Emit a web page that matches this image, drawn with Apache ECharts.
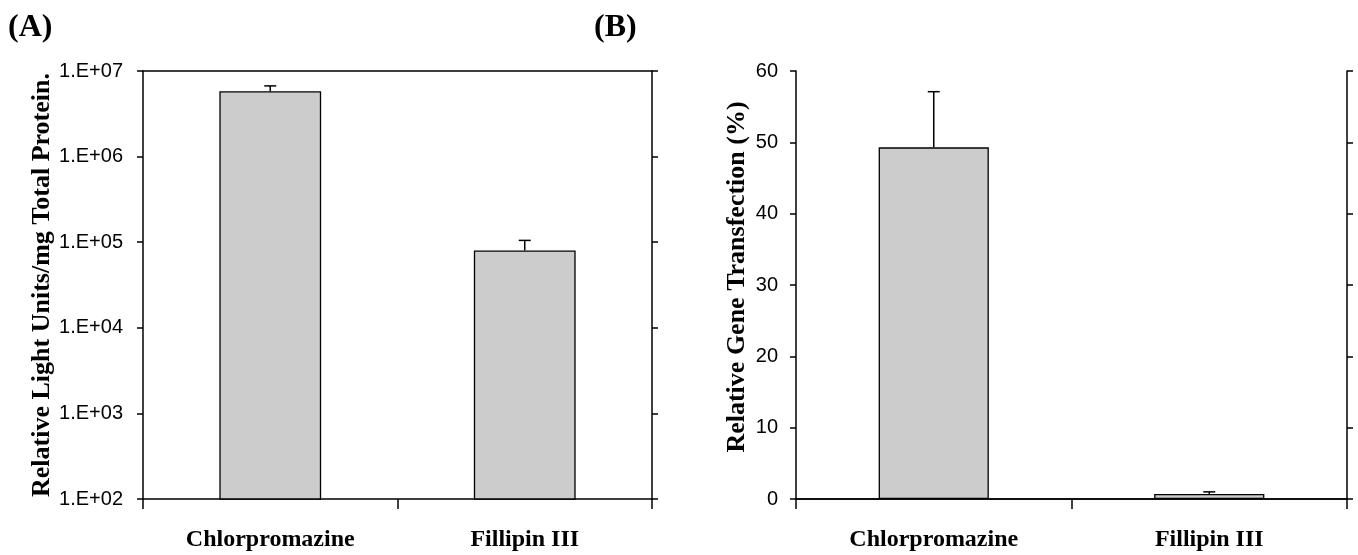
<!DOCTYPE html>
<html>
<head>
<meta charset="utf-8">
<script src="https://cdn.jsdelivr.net/npm/echarts@6/dist/echarts.min.js"></script>
<style>
html,body{margin:0;padding:0;background:#fff;}
#chart{width:1358px;height:555px;}
</style>
</head>
<body>
<div id="chart"></div>
<script>
const categories = ['Chlorpromazine', 'Fillipin III'];
const rluValues = [5.8e6, 8.0e4];
const rluErrTop = [6.7e6, 1.05e5];
const transfValues = [49.3, 0.7];
const transfErrTop = [57.1, 1.0];
const logTickLabels = ['1.E+02', '1.E+03', '1.E+04', '1.E+05', '1.E+06', '1.E+07'];
const titleA = 'Relative Light Units/mg Total Protein.';
const titleB = 'Relative Gene Transfection (%)';

const chart = echarts.init(document.getElementById('chart'), null, {renderer: 'canvas'});

const tickFont = {fontFamily: 'Liberation Sans, Arial, sans-serif', fontSize: 20, color: '#000'};
const catFont = {fontFamily: 'Liberation Serif, Times New Roman, serif', fontSize: 24, fontWeight: 'bold', color: '#000'};
const nameFont = {fontFamily: 'Liberation Serif, Times New Roman, serif', fontSize: 26, fontWeight: 'bold', color: '#000'};
const lineStyle = {color: '#000', width: 1.5};

function errRender(params, api) {
  const x = api.value(0), v = api.value(1), t = api.value(2);
  const p0 = api.coord([x, v]);
  const p1 = api.coord([x, t]);
  const st = {stroke: '#000', lineWidth: 1.5};
  return {type: 'group', children: [
    {type: 'line', shape: {x1: p0[0], y1: p0[1], x2: p1[0], y2: p1[1]}, style: st},
    {type: 'line', shape: {x1: p1[0] - 6, y1: p1[1], x2: p1[0] + 6, y2: p1[1]}, style: st}
  ]};
}

function xAxes(gi) {
  return [
    {type: 'category', gridIndex: gi, data: categories, position: 'bottom',
     axisLine: {show: true, lineStyle: lineStyle},
     axisTick: {show: true, length: 10, interval: 0, alignWithLabel: false, lineStyle: lineStyle},
     axisLabel: Object.assign({margin: 29, interval: 0}, catFont),
     splitLine: {show: false}},
    {type: 'category', gridIndex: gi, data: categories, position: 'top',
     axisLine: {show: true, lineStyle: lineStyle},
     axisTick: {show: false}, axisLabel: {show: false}, splitLine: {show: false}}
  ];
}

const option = {
  backgroundColor: '#fff',
  animation: false,
  graphic: [
    {type: 'text', left: 8, top: 12, style: {text: '(A)', font: 'bold 32px "Liberation Serif", serif', fill: '#000'}},
    {type: 'text', left: 594, top: 12, style: {text: '(B)', font: 'bold 32px "Liberation Serif", serif', fill: '#000'}}
  ],
  grid: [
    {left: 143, right: 706, top: 71, bottom: 56},
    {left: 796, right: 11, top: 71, bottom: 56}
  ],
  xAxis: xAxes(0).concat(xAxes(1)),
  yAxis: [
    {type: 'log', gridIndex: 0, logBase: 10, min: 100, max: 1e7, interval: 1, position: 'left',
     name: titleA, nameLocation: 'middle', nameGap: 88, nameTextStyle: nameFont,
     axisLine: {show: true, lineStyle: lineStyle},
     axisTick: {show: true, length: 6, lineStyle: lineStyle},
     axisLabel: Object.assign({margin: 20, formatter: v => logTickLabels[Math.round(Math.log10(v)) - 2]}, tickFont),
     splitLine: {show: false}, minorTick: {show: false}},
    {type: 'log', gridIndex: 0, logBase: 10, min: 100, max: 1e7, interval: 1, position: 'right',
     axisLine: {show: true, lineStyle: lineStyle},
     axisTick: {show: true, inside: false, length: 6, lineStyle: lineStyle},
     axisLabel: {show: false}, splitLine: {show: false}},
    {type: 'value', gridIndex: 1, min: 0, max: 60, interval: 10, position: 'left',
     name: titleB, nameLocation: 'middle', nameGap: 46,
     nameTextStyle: Object.assign({padding: [0, 0, 0, 16]}, nameFont),
     axisLine: {show: true, lineStyle: lineStyle},
     axisTick: {show: true, length: 6, lineStyle: lineStyle},
     axisLabel: Object.assign({margin: 18}, tickFont),
     splitLine: {show: false}},
    {type: 'value', gridIndex: 1, min: 0, max: 60, interval: 10, position: 'right',
     axisLine: {show: true, lineStyle: lineStyle},
     axisTick: {show: true, inside: false, length: 6, lineStyle: lineStyle},
     axisLabel: {show: false}, splitLine: {show: false}}
  ],
  series: [
    {type: 'bar', xAxisIndex: 0, yAxisIndex: 0, data: rluValues, barWidth: '40%',
     itemStyle: {color: '#cccccc', borderColor: '#000', borderWidth: 1.3}},
    {type: 'custom', xAxisIndex: 0, yAxisIndex: 0, renderItem: errRender, z: 5,
     encode: {x: 0, y: [1, 2]},
     data: categories.map((c, i) => [i, rluValues[i], rluErrTop[i]])},
    {type: 'bar', xAxisIndex: 2, yAxisIndex: 2, data: transfValues, barWidth: '40%',
     itemStyle: {color: '#cccccc', borderColor: '#000', borderWidth: 1.3}},
    {type: 'custom', xAxisIndex: 2, yAxisIndex: 2, renderItem: errRender, z: 5,
     encode: {x: 0, y: [1, 2]},
     data: categories.map((c, i) => [i, transfValues[i], transfErrTop[i]])}
  ]
};
chart.setOption(option);
</script>
</body>
</html>
